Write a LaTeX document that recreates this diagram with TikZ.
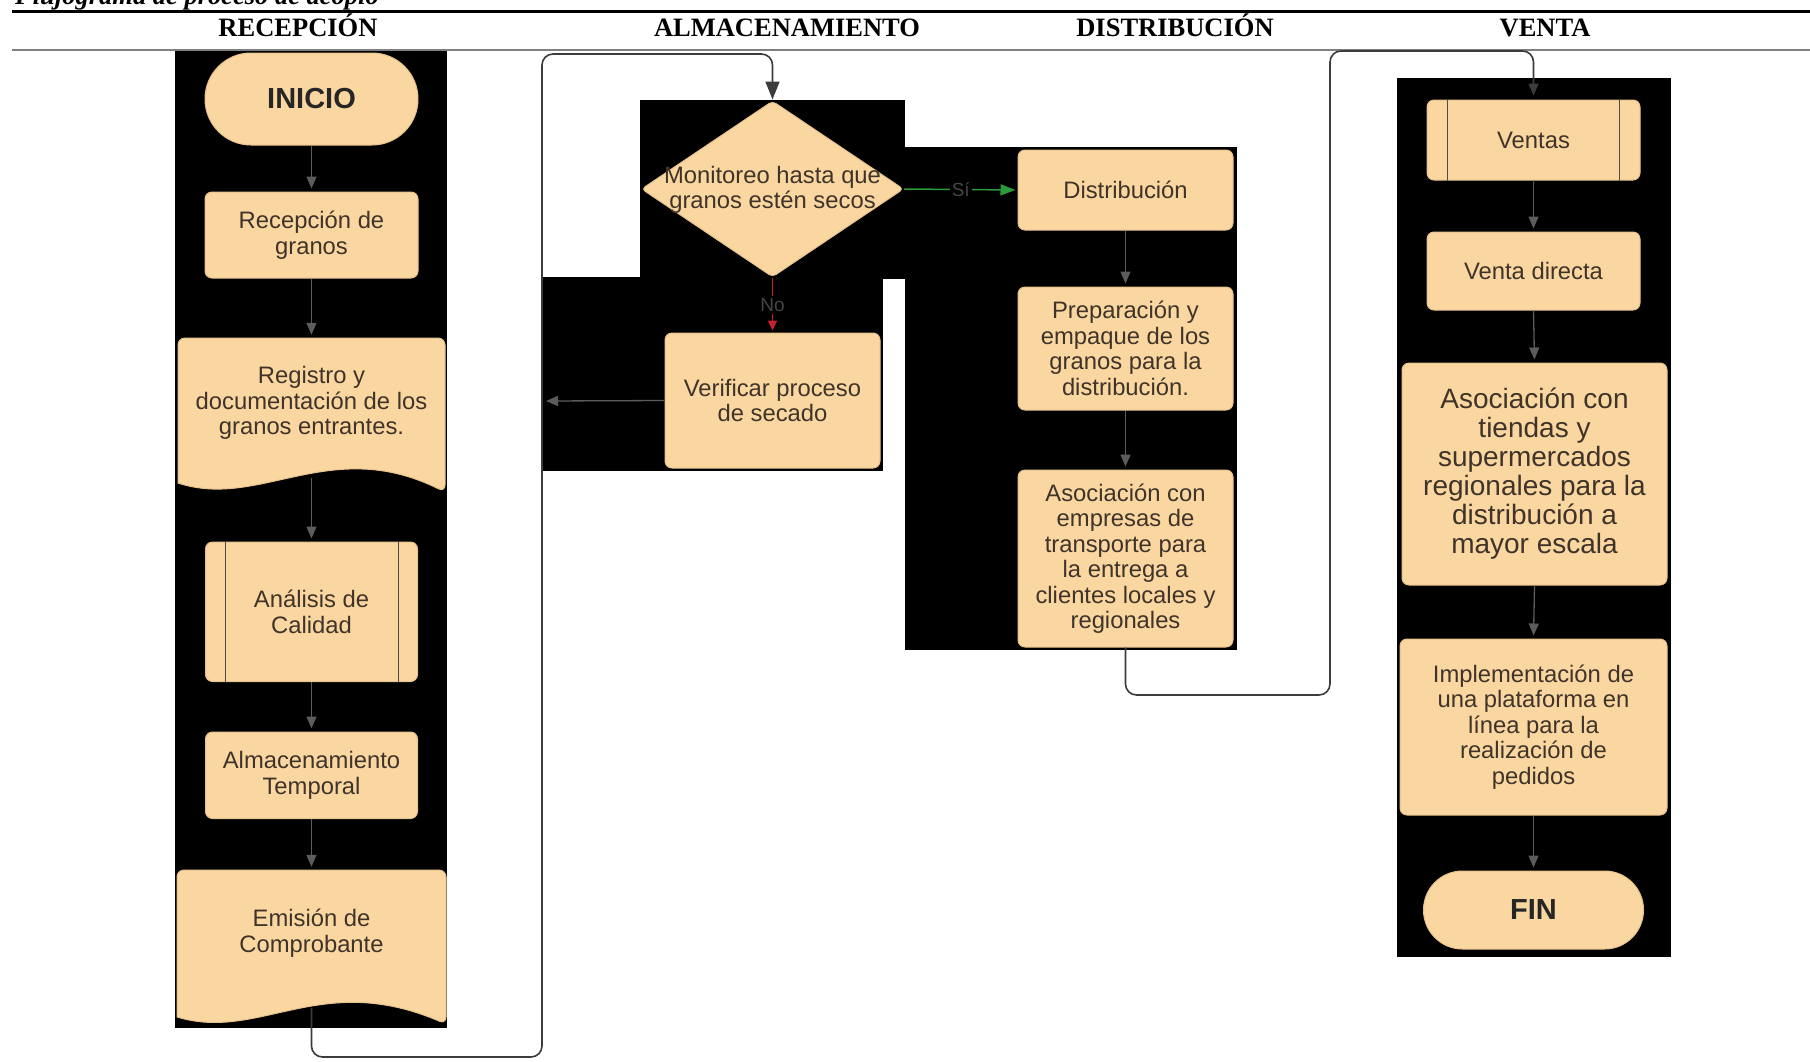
\documentclass[tikz,border=0pt]{standalone}
\usepackage{fontspec}
\setmainfont{Liberation Serif}
\newfontfamily\sansf{Liberation Sans}
\usetikzlibrary{arrows.meta,shapes.geometric}
\definecolor{peach}{HTML}{FAD7A0}
\definecolor{peachedge}{HTML}{E6C28C}
\definecolor{boxtext}{HTML}{3F332A}
\definecolor{arrowgray}{HTML}{5C5C5C}
\definecolor{loopgray}{HTML}{3C3C3C}
\definecolor{nored}{HTML}{C8202C}
\definecolor{sigreen}{HTML}{2A9A3A}
\definecolor{lblgray}{HTML}{454545}
\newcommand\boxfnt{\sansf\fontsize{23.8}{25.5}\selectfont}
\begin{document}
\begin{tikzpicture}[x=1pt,y=-1pt,
  every node/.style={inner sep=0pt},
  pbox/.style={draw=peachedge,line width=1pt,fill=peach,rounded corners=7pt,text=boxtext,font=\boxfnt,align=center},
  tbox/.style={pbox,font=\sansf\bfseries\fontsize{29}{31}\selectfont,text=black!85},
  doctext/.style={text=boxtext,font=\boxfnt,align=center},
  docshape/.style={draw=peachedge,line width=1pt,fill=peach},
  flowarrow/.style={draw=arrowgray,line width=1.3pt,-{Triangle[length=12pt,width=10pt]},shorten >=3pt},
  loopline/.style={draw=loopgray,line width=1.6pt,rounded corners=11pt},
  header/.style={font=\fontsize{26.5}{30}\selectfont\bfseries,anchor=base},
  innerln/.style={draw=black!70,line width=1pt},
  edgelbl/.style={fill=black,text=lblgray,font=\sansf\fontsize{19}{20}\selectfont,inner sep=2pt}]
\useasboundingbox (0,0) rectangle (1810,1061);
\clip (0,0) rectangle (1810,1061);

% title and header lines
\node[anchor=base west,font=\fontsize{26.5}{30}\selectfont\bfseries\itshape] (title) at (15,4) {Flujograma de proceso de acopio};
\draw[line width=3pt] (12,11.5) -- (1810,11.5);
\node[header] (h1) at (298,36) {RECEPCIÓN};
\node[header] (h2) at (787,36) {ALMACENAMIENTO};
\node[header] (h3) at (1175,36) {DISTRIBUCIÓN};
\node[header] (h4) at (1545,36) {VENTA};
\draw[line width=2pt,draw=black!50] (12,50) -- (1810,50);

% black backgrounds
\fill (175,51) rectangle (447,1028);
\fill (640,100) rectangle (905,279);
\fill (543,277) rectangle (883,471);
\fill (905,147) rectangle (1237,650);
\fill (1397,78) rectangle (1671,957);

% RECEPCION column
\node[tbox,minimum width=213pt,minimum height=92pt,rounded corners=45.9pt] (inicio) at (311.5,99) {INICIO};
\node[pbox,minimum width=213pt,minimum height=86pt] (recep) at (311.5,235) {Recepción de\\granos};
\filldraw[docshape] (178,483) [rounded corners=7pt] -- (178,338) -- (445,338) -- (445,492) [sharp corners] .. controls (330,435) and (260,510) .. (178,483) -- cycle;
\node[doctext,minimum width=267pt,minimum height=130pt] (reg) at (311.5,403) {Registro y\\documentación de los\\granos entrantes.};
\node[pbox,minimum width=212pt,minimum height=139.5pt] (anal) at (311.5,611.75) {Análisis de\\Calidad};
\draw[innerln] ([xshift=20pt]anal.north west) -- ([xshift=20pt]anal.south west);
\draw[innerln] ([xshift=-20pt]anal.north east) -- ([xshift=-20pt]anal.south east);
\node[pbox,minimum width=212pt,minimum height=86.5pt] (almt) at (311.5,775.25) {Almacenamiento\\Temporal};
\filldraw[docshape] (177,1017) [rounded corners=7pt] -- (177,870) -- (446,870) -- (446,1024) [sharp corners] .. controls (320,970) and (260,1042) .. (177,1017) -- cycle;
\node[doctext,minimum width=269pt,minimum height=126pt] (emi) at (311.5,933) {Emisión de\\Comprobante};
\coordinate (regb) at (311.5,478);
\coordinate (emib) at (311.5,1008);

% ALMACENAMIENTO column
\node[diamond,draw=peachedge,fill=peach,line width=1pt,minimum width=262pt,minimum height=176pt,inner sep=0pt,rounded corners=4pt] (mon) at (772.5,189) {};
\node[doctext] (montext) at (772.5,190) {Monitoreo hasta que\\granos estén secos};
\node[pbox,minimum width=215pt,minimum height=135pt] (ver) at (772.5,400.5) {Verificar proceso\\de secado};

% DISTRIBUCION column
\node[pbox,minimum width=215pt,minimum height=80pt] (dist) at (1125.5,190) {Distribución};
\node[pbox,minimum width=215pt,minimum height=123pt] (prep) at (1125.5,348.5) {Preparación y\\empaque de los\\granos para la\\distribución.};
\node[pbox,minimum width=215pt,minimum height=177pt] (asoc1) at (1125.5,558.5) {Asociación con\\empresas de\\transporte para\\la entrega a\\clientes locales y\\regionales};

% VENTA column
\node[pbox,minimum width=213pt,minimum height=80pt] (ventas) at (1533.5,140) {Ventas};
\draw[innerln] ([xshift=21pt]ventas.north west) -- ([xshift=21pt]ventas.south west);
\draw[innerln] ([xshift=-21pt]ventas.north east) -- ([xshift=-21pt]ventas.south east);
\node[pbox,minimum width=213pt,minimum height=78pt] (vdir) at (1533.5,271) {Venta directa};
\node[pbox,minimum width=265pt,minimum height=222pt,font=\sansf\fontsize{28}{29}\selectfont] (asoc2) at (1534.5,474) {Asociación con\\tiendas y\\supermercados\\regionales para la\\distribución a\\mayor escala};
\node[pbox,minimum width=267pt,minimum height=176pt] (impl) at (1533.5,727) {Implementación de\\una plataforma en\\línea para la\\realización de\\pedidos};
\node[tbox,minimum width=220pt,minimum height=78pt,rounded corners=38.9pt] (fin) at (1533.5,910) {FIN};

% connectors
\draw[flowarrow] (inicio.south) -- (recep.north);
\draw[flowarrow] (recep.south) -- (reg.north);
\draw[flowarrow] (regb) -- (anal.north);
\draw[flowarrow] (anal.south) -- (almt.north);
\draw[flowarrow] (almt.south) -- (emi.north);
\draw[flowarrow] (dist.south) -- (prep.north);
\draw[flowarrow] (prep.south) -- (asoc1.north);
\draw[flowarrow] (ventas.south) -- (vdir.north);
\draw[flowarrow] (vdir.south) -- (asoc2.north);
\draw[flowarrow] (asoc2.south) -- (impl.north);
\draw[flowarrow] (impl.south) -- (fin.north);

\draw[draw=nored,line width=1.5pt,-{Triangle[length=10pt,width=9pt,fill=nored]},shorten >=2pt] (mon.south) -- node[edgelbl] (nolbl) {No} (ver.north);
\draw[draw=sigreen,line width=1.5pt,-{Triangle[length=15pt,width=11pt]},shorten >=2pt] (mon.east) -- node[edgelbl] (silbl) {Sí} (dist.west);

\coordinate (vtip) at (546,401);
\draw[flowarrow,shorten >=0pt] (ver.west) -- (vtip);

\coordinate (la) at (542,1057);
\coordinate (lb) at (542,54);
\draw[loopline,-{Triangle[length=18pt,width=14pt]},shorten >=1pt] (emib) |- (la) -- (lb) -| (mon.north);

\coordinate (lc) at (1330,695);
\coordinate (ld) at (1330,51);
\draw[loopline,-{Triangle[length=12pt,width=10pt]},shorten >=4pt] (asoc1.south) |- (lc) -- (ld) -| (ventas.north);
\end{tikzpicture}
\end{document}
